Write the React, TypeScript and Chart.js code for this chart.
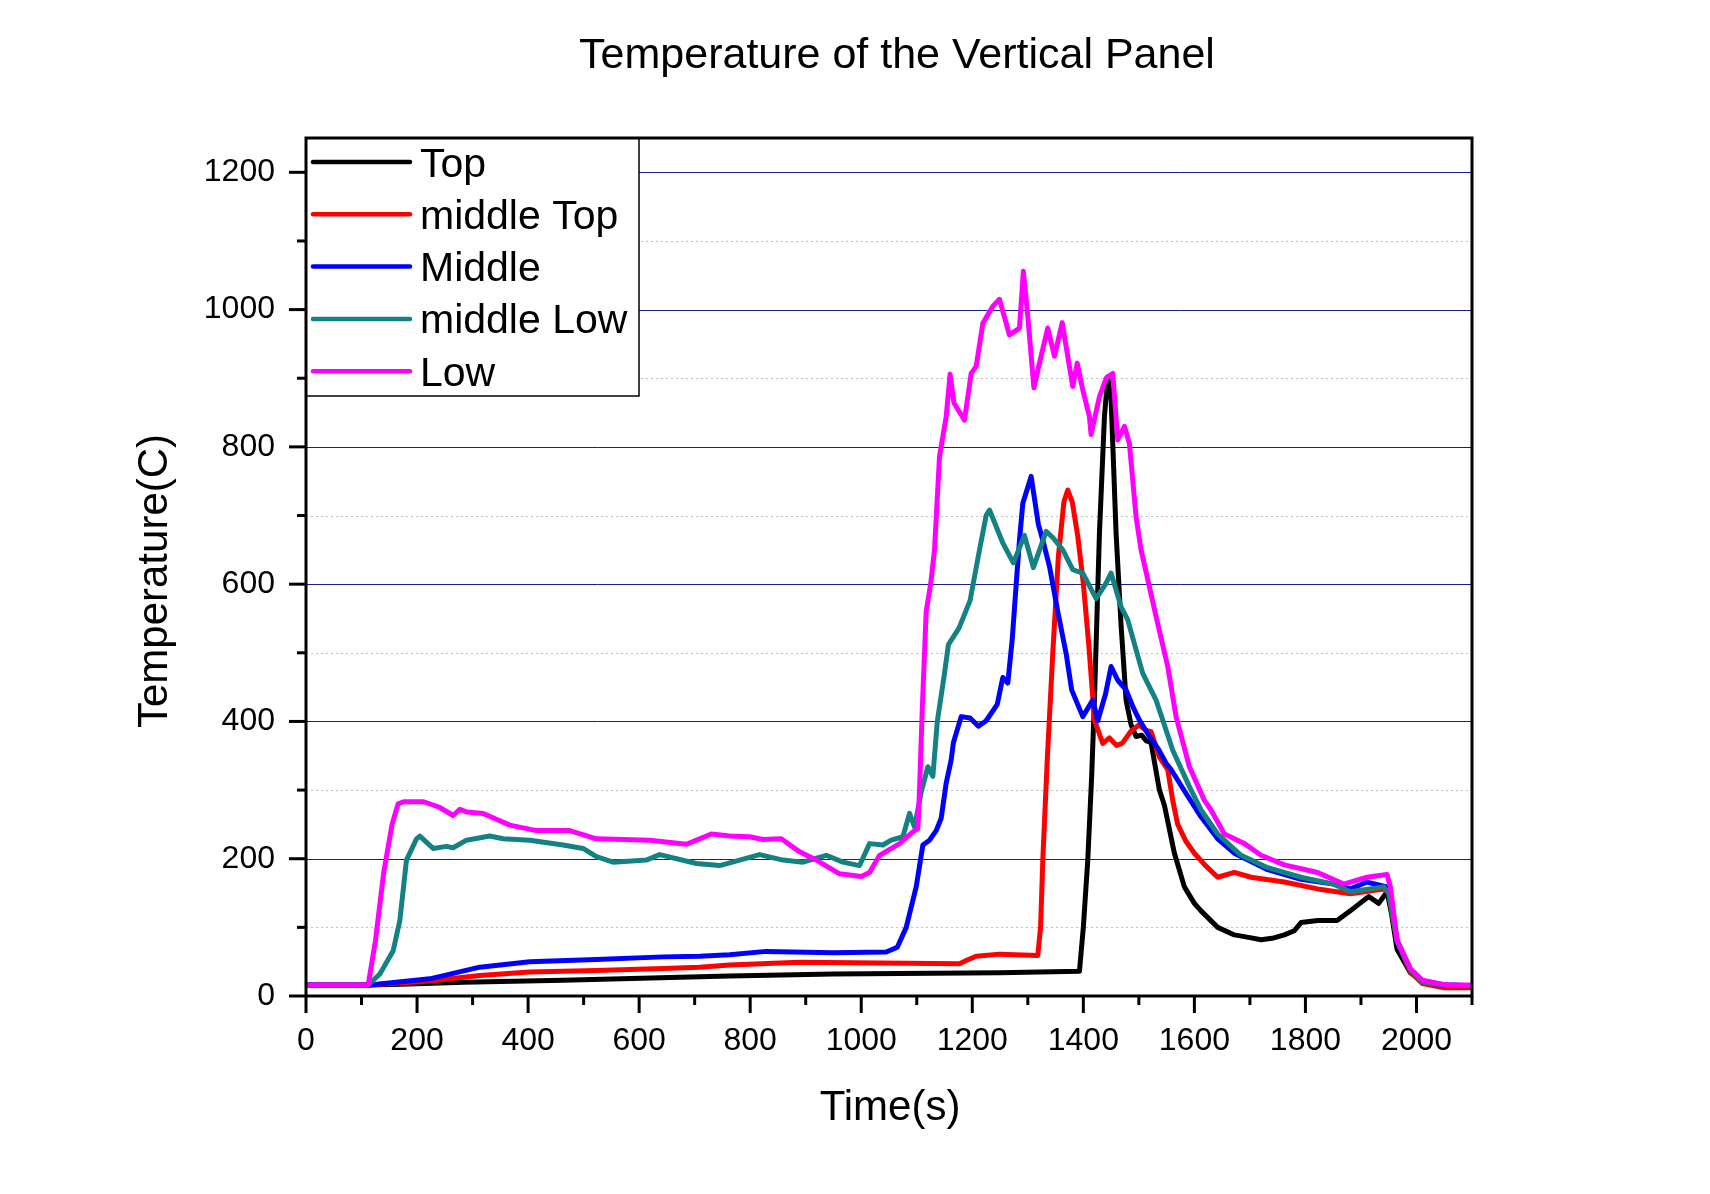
import React, { useEffect, useRef } from "react";
import { Chart, registerables } from "chart.js";

Chart.register(...registerables);

const chartTitle = "Temperature of the Vertical Panel";
const xAxisTitle = "Time(s)";
const yAxisTitle = "Temperature(C)";

const seriesNames = ["Top", "middle Top", "Middle", "middle Low", "Low"];
const seriesColors = ["#000000", "#ff0000", "#0000ff", "#148282", "#ff00ff"];

const topTime = [0, 110, 172, 283, 463, 709, 763, 949, 1249, 1393, 1400, 1408, 1415, 1420, 1429, 1438, 1444, 1450, 1459, 1468, 1477, 1486, 1495, 1505, 1513, 1522, 1537, 1546, 1564, 1582, 1600, 1612, 1642, 1672, 1700, 1720, 1740, 1762, 1780, 1792, 1822, 1857, 1887, 1914, 1932, 1947, 1955, 1965, 1989, 2010, 2050, 2100];
const topTemp = [16, 16, 17, 20, 23, 28, 29, 32, 34, 36, 100, 198, 320, 431, 674, 844, 902, 870, 674, 540, 431, 395, 378, 380, 372, 369, 300, 278, 208, 159, 135, 124, 100, 89, 85, 82, 84, 89, 95, 107, 110, 110, 128, 145, 135, 152, 120, 68, 34, 22, 16, 15];

const midTopTime = [0, 115, 223, 313, 403, 523, 643, 709, 763, 889, 1177, 1190, 1207, 1249, 1318, 1323, 1327, 1335, 1345, 1355, 1365, 1372, 1380, 1390, 1400, 1410, 1420, 1435, 1447, 1460, 1470, 1485, 1500, 1513, 1522, 1537, 1552, 1561, 1570, 1585, 1600, 1620, 1642, 1672, 1702, 1762, 1822, 1881, 1941, 1950, 1965, 1989, 2011, 2050, 2100];
const midTopTemp = [16, 16, 22, 30, 35, 37, 40, 42, 45, 49, 47, 52, 58, 61, 59, 100, 198, 344, 500, 640, 720, 737, 720, 670, 601, 510, 402, 368, 376, 365, 368, 385, 395, 387, 385, 348, 330, 285, 250, 225, 208, 190, 173, 180, 173, 166, 156, 149, 156, 150, 80, 35, 18, 12, 12];

const midTime = [0, 115, 223, 313, 403, 523, 643, 709, 763, 829, 949, 1045, 1065, 1081, 1099, 1111, 1123, 1135, 1144, 1153, 1162, 1166, 1180, 1196, 1211, 1225, 1245, 1255, 1264, 1272, 1280, 1285, 1291, 1306, 1319, 1327, 1339, 1354, 1369, 1379, 1399, 1417, 1426, 1440, 1450, 1462, 1477, 1490, 1501, 1519, 1535, 1549, 1558, 1585, 1612, 1642, 1672, 1732, 1792, 1851, 1881, 1911, 1947, 1955, 1965, 1989, 2011, 2050, 2100];
const midTemp = [16, 16, 25, 42, 50, 53, 57, 58, 60, 65, 63, 64, 71, 100, 159, 220, 227, 241, 259, 310, 344, 369, 407, 405, 393, 401, 425, 464, 456, 520, 610, 664, 718, 757, 687, 664, 626, 560, 499, 446, 407, 431, 401, 440, 480, 460, 446, 420, 402, 378, 360, 339, 330, 295, 261, 229, 208, 184, 170, 163, 156, 166, 159, 140, 80, 38, 20, 16, 15];

const midLowTime = [0, 112, 133, 157, 169, 181, 199, 205, 229, 253, 265, 289, 331, 355, 403, 463, 499, 523, 553, 613, 637, 703, 745, 817, 859, 895, 937, 967, 997, 1015, 1039, 1054, 1075, 1087, 1096, 1108, 1120, 1129, 1137, 1150, 1157, 1176, 1196, 1213, 1225, 1231, 1243, 1255, 1274, 1294, 1310, 1333, 1345, 1363, 1381, 1399, 1423, 1440, 1450, 1468, 1480, 1493, 1507, 1531, 1543, 1561, 1591, 1612, 1642, 1684, 1732, 1792, 1851, 1881, 1941, 1950, 1965, 1989, 2011, 2050, 2100];
const midLowTemp = [16, 16, 32, 66, 110, 198, 229, 233, 215, 218, 216, 227, 233, 229, 227, 220, 215, 203, 195, 198, 206, 193, 190, 206, 198, 195, 205, 195, 190, 222, 220, 227, 232, 266, 246, 297, 334, 320, 400, 470, 512, 536, 576, 650, 700, 708, 684, 660, 631, 671, 624, 677, 668, 650, 621, 616, 579, 600, 616, 567, 548, 510, 470, 431, 402, 358, 305, 271, 236, 205, 187, 173, 163, 152, 159, 150, 80, 38, 20, 16, 15];

const lowTime = [0, 112, 125, 140, 155, 166, 176, 212, 240, 265, 277, 290, 319, 367, 415, 475, 523, 571, 619, 685, 709, 730, 763, 799, 823, 856, 889, 919, 961, 1000, 1015, 1033, 1069, 1093, 1102, 1105, 1110, 1117, 1125, 1132, 1141, 1153, 1160, 1167, 1186, 1198, 1207, 1219, 1237, 1249, 1267, 1285, 1292, 1300, 1311, 1321, 1336, 1348, 1362, 1375, 1381, 1389, 1399, 1411, 1414, 1429, 1441, 1453, 1462, 1474, 1483, 1495, 1504, 1531, 1552, 1567, 1591, 1618, 1630, 1654, 1690, 1720, 1762, 1822, 1869, 1911, 1947, 1953, 1965, 1989, 2011, 2053, 2100];
const lowTemp = [16, 16, 80, 180, 250, 280, 283, 283, 275, 263, 272, 268, 266, 249, 241, 241, 229, 228, 227, 221, 229, 236, 233, 232, 228, 229, 210, 198, 178, 174, 180, 205, 222, 239, 244, 300, 420, 560, 600, 650, 786, 844, 906, 864, 839, 907, 917, 980, 1005, 1015, 963, 973, 1056, 990, 886, 922, 973, 932, 981, 917, 888, 922, 883, 844, 818, 873, 900, 907, 810, 830, 805, 698, 650, 553, 480, 407, 334, 285, 271, 236, 222, 205, 191, 180, 163, 173, 177, 159, 82, 40, 23, 16, 16];

const xTickValues = [0, 200, 400, 600, 800, 1000, 1200, 1400, 1600, 1800, 2000];
const xMinorTickValues = [100, 300, 500, 700, 900, 1100, 1300, 1500, 1700, 1900, 2100];
const yTickValues = [0, 200, 400, 600, 800, 1000, 1200];
const yMinorTickValues = [100, 300, 500, 700, 900, 1100];

const seriesTimes = [topTime, midTopTime, midTime, midLowTime, lowTime];
const seriesTemps = [topTemp, midTopTemp, midTemp, midLowTemp, lowTemp];

const FONT = "'Liberation Sans', Arial, sans-serif";

const decorPlugin = {
  id: "decor",
  beforeDatasetsDraw(chart: any) {
    const { ctx, chartArea: a, scales } = chart;
    const y = scales.y;
    ctx.save();
    ctx.lineWidth = 1;
    ctx.strokeStyle = "#b7c4c4";
    ctx.setLineDash([2, 3]);
    yMinorTickValues.forEach((v) => {
      const py = Math.round(y.getPixelForValue(v)) + 0.5;
      ctx.beginPath();
      ctx.moveTo(a.left, py);
      ctx.lineTo(a.right, py);
      ctx.stroke();
    });
    ctx.setLineDash([]);
    ctx.strokeStyle = "#1c1c8c";
    yTickValues.forEach((v) => {
      if (v === 0) return;
      const py = Math.round(y.getPixelForValue(v)) + 0.5;
      ctx.beginPath();
      ctx.moveTo(a.left, py);
      ctx.lineTo(a.right, py);
      ctx.stroke();
    });
    ctx.restore();
  },
  afterDraw(chart: any) {
    const { ctx, chartArea: a, scales } = chart;
    const x = scales.x;
    const y = scales.y;
    ctx.save();
    ctx.strokeStyle = "#000";
    ctx.lineWidth = 3;
    const seg = (x1: number, y1: number, x2: number, y2: number) => {
      ctx.beginPath();
      ctx.moveTo(x1, y1);
      ctx.lineTo(x2, y2);
      ctx.stroke();
    };
    xTickValues.forEach((v) => {
      const px = x.getPixelForValue(v);
      seg(px, a.bottom, px, a.bottom + 17);
    });
    xMinorTickValues.forEach((v) => {
      const px = x.getPixelForValue(v);
      seg(px, a.bottom, px, a.bottom + 9);
    });
    yTickValues.forEach((v) => {
      const py = y.getPixelForValue(v);
      seg(a.left, py, a.left - 17, py);
    });
    yMinorTickValues.forEach((v) => {
      const py = y.getPixelForValue(v);
      seg(a.left, py, a.left - 9, py);
    });

    // legend box
    const lx = a.left;
    const ly = a.top;
    const lw = 333;
    const lh = 258;
    ctx.fillStyle = "#fff";
    ctx.fillRect(lx, ly, lw, lh);
    ctx.lineWidth = 1.5;
    ctx.strokeRect(lx, ly, lw, lh);
    ctx.font = `41px ${FONT}`;
    ctx.textBaseline = "alphabetic";
    ctx.textAlign = "left";
    seriesNames.forEach((name, i) => {
      const rowY = ly + 24 + i * 52.3;
      ctx.strokeStyle = seriesColors[i];
      ctx.lineWidth = 4.5;
      ctx.lineCap = "round";
      seg(lx + 7, rowY, lx + 104, rowY);
      ctx.fillStyle = "#000";
      ctx.fillText(name, lx + 114, rowY + 14.5);
    });
    ctx.lineCap = "butt";

    // frame
    ctx.strokeStyle = "#000";
    ctx.lineWidth = 3;
    ctx.strokeRect(a.left, a.top, a.right - a.left, a.bottom - a.top);

    // titles
    ctx.fillStyle = "#000";
    ctx.textAlign = "center";
    ctx.textBaseline = "middle";
    ctx.font = `43px ${FONT}`;
    ctx.fillText(chartTitle, (a.left + a.right) / 2 + 8, 56);
    ctx.font = `42px ${FONT}`;
    ctx.fillText(xAxisTitle, (a.left + a.right) / 2 + 1, 1108);
    ctx.save();
    ctx.translate(155, 581);
    ctx.rotate(-Math.PI / 2);
    ctx.fillText(yAxisTitle, 0, 0);
    ctx.restore();
    ctx.restore();
  },
};

export default function App() {
  const ref = useRef<HTMLCanvasElement | null>(null);
  useEffect(() => {
    document.body.style.margin = "0";
    const canvas = ref.current;
    if (!canvas) return;
    const chart = new Chart(canvas, {
      type: "line",
      data: {
        datasets: seriesNames.map((name, i) => ({
          label: name,
          data: seriesTimes[i].map((t, j) => ({ x: t, y: seriesTemps[i][j] })),
          borderColor: seriesColors[i],
          backgroundColor: seriesColors[i],
          borderWidth: 5,
          borderJoinStyle: "round",
          pointRadius: 0,
          fill: false,
          tension: 0,
          order: 5 - i,
        })),
      },
      options: {
        animation: false,
        responsive: false,
        devicePixelRatio: 1,
        layout: { padding: { top: 138, left: 0, right: 238, bottom: 0 } },
        plugins: {
          legend: { display: false },
          title: { display: false },
          tooltip: { enabled: false },
        },
        scales: {
          x: {
            type: "linear",
            min: 0,
            max: 2100,
            grid: { display: false, drawTicks: false, tickLength: 0 },
            border: { display: false },
            ticks: {
              color: "#000",
              font: { family: FONT, size: 32 },
              padding: 26,
              maxRotation: 0,
              autoSkip: false,
              callback: (v: any) => String(v),
            },
            afterBuildTicks: (s: any) => {
              s.ticks = xTickValues.map((v) => ({ value: v }));
            },
            afterFit: (s: any) => {
              s.height = 198;
            },
          },
          y: {
            type: "linear",
            min: 0,
            max: 1250,
            grid: { display: false, drawTicks: false, tickLength: 0 },
            border: { display: false },
            ticks: {
              color: "#000",
              font: { family: FONT, size: 32 },
              padding: 31,
              autoSkip: false,
              callback: (v: any) => String(v),
            },
            afterBuildTicks: (s: any) => {
              s.ticks = yTickValues.map((v) => ({ value: v }));
            },
            afterFit: (s: any) => {
              s.width = 306;
            },
          },
        },
      } as any,
      plugins: [decorPlugin],
    });
    return () => chart.destroy();
  }, []);
  return (
    <canvas
      ref={ref}
      width={1710}
      height={1194}
      style={{ display: "block", width: "1710px", height: "1194px" }}
    />
  );
}
